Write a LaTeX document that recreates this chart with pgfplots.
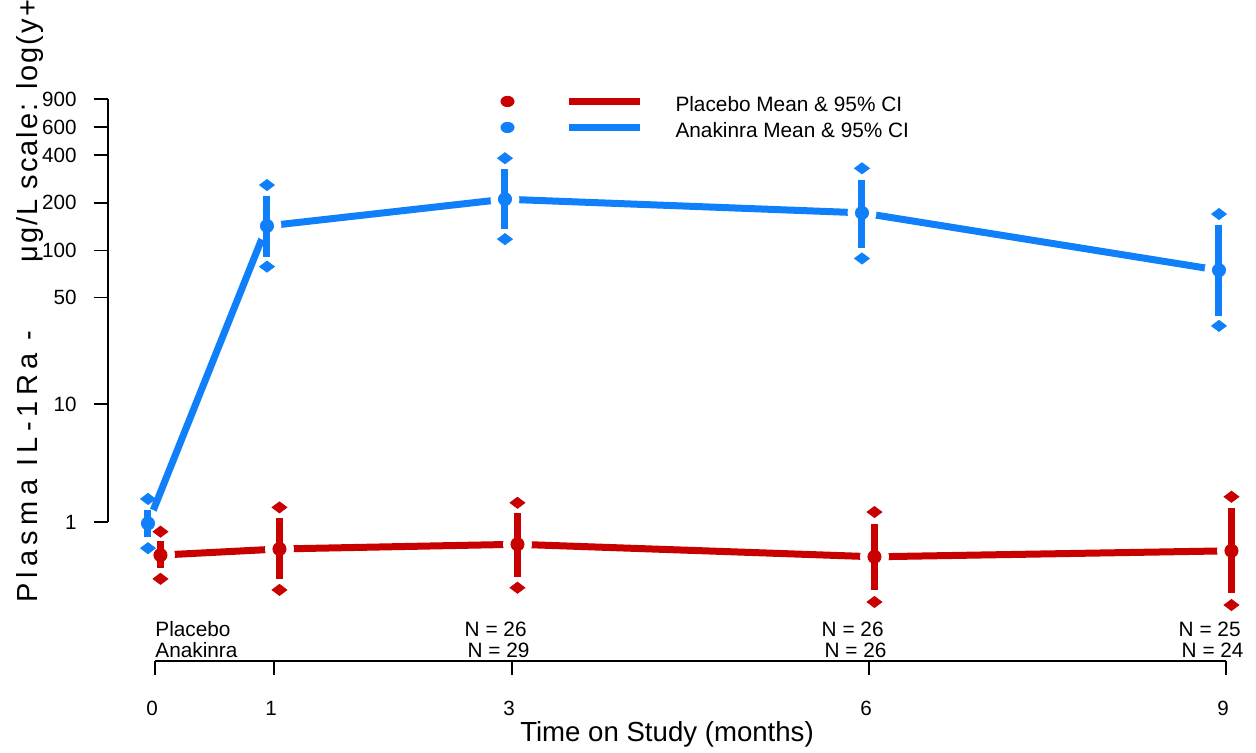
\documentclass[border=0pt]{standalone}
\usepackage{pgfplots}
\pgfplotsset{compat=1.18}
\usepackage{pgfplotstable}
\usepackage{fontspec}
\setmainfont{Liberation Sans}
\newfontfamily\widesans[LetterSpace=18]{Liberation Sans}
\newfontfamily\spacedsans[LetterSpace=7]{Liberation Sans}

\definecolor{plc}{RGB}{200,0,0}
\definecolor{ana}{RGB}{16,128,250}

% columns: month, mean, 95% CI (bar), outer limits (diamonds); values in ug/L
\pgfplotstableread{
t  mean   lo     hi    lo2     hi2
0  0.24   0.025  0.51  -0.12   0.74
1  0.355 -0.125  1.11  -0.25   1.47
3  0.45  -0.09   1.27  -0.226  1.64
6  0.21  -0.25   0.94  -0.37   1.31
9  0.32  -0.286  1.44  -0.397  1.88
}\placebo
\pgfplotstableread{
t  mean   lo     hi     lo2    hi2
0  0.96   0.61   1.38   0.37   1.79
1  143    91     221    79     259
3  211    137    326    118    382
6  173    103    279    89     330
9  75     38     145    33     170
}\anakinra

% y axis shows log10(y+1)
\pgfkeys{
  /pgfplots/table/lg/.style={/pgfplots/table/y expr={ln(\thisrow{#1}+1)/ln(10)}},
  /pgfplots/table/ci/.style={
    /pgfplots/table/y error plus expr={ln((\thisrow{hi}+1)/(\thisrow{mean}+1))/ln(10)},
    /pgfplots/table/y error minus expr={ln((\thisrow{mean}+1)/(\thisrow{lo}+1))/ln(10)}},
}
\pgfplotsset{
  legendsym/.style={legend image code/.code={
    \fill (0bp,3bp) ellipse (3.3bp and 2.6bp);
    \draw[line width=3.5bp] (30.5bp,3bp) -- (66bp,3bp);
    \path[draw=none, fill=none] (-3.5bp,-2bp) rectangle (84bp,7bp);
  }},
}

\begin{document}
\begin{tikzpicture}
\begin{axis}[
  scale only axis, width=559bp, height=330.5bp,
  xmin=-0.395, xmax=9, ymin=-0.5709, ymax=3.5759,
  clip=false, clip marker paths=true,
  axis x line*=bottom, axis y line*=left,
  axis line style={draw=none},
  tick align=outside, major tick length=7bp,
  every tick/.style={black, line width=0.65bp},
  xtick={0,1,3,6,9}, xticklabels={0,1,3,6,9},
  ytick={0.30103,1.04139,1.70757,2.00432,2.30320,2.60314,2.77887,2.95472},
  yticklabels={1,10,50,100,200,400,600,900},
  tick label style={font=\fontsize{10.3bp}{12bp}\selectfont},
  xticklabel style={anchor=base, inner sep=0pt, yshift=-20bp, xshift=-1.5bp},
  yticklabel style={anchor=east, inner sep=0pt, xshift=-8.5bp},
  xlabel={Time on Study (months)},
  xlabel style={font=\fontsize{13.8bp}{16bp}\selectfont, at={(axis description cs:0.5,0)}, anchor=base, yshift=-40bp},
  legend style={at={(axis cs:2.90,2.992)}, anchor=north west, draw=none, fill=none,
    inner sep=0pt, row sep=0pt, font=\fontsize{10.4bp}{12bp}\selectfont,
    nodes={inner sep=0pt, text height=8bp, text depth=4bp}},
  legend cell align=left,
]
\addlegendimage{legendsym, plc}
\addlegendentry{Placebo Mean \& 95\% CI}
\addlegendimage{legendsym, ana}
\addlegendentry{Anakinra Mean \& 95\% CI}

% connecting lines
\addplot[forget plot, ana, line width=3.5bp, no markers] table[x expr=\thisrow{t}-0.059, lg=mean] {\anakinra};
\addplot[forget plot, plc, line width=3.5bp, no markers] table[x expr=\thisrow{t}+0.046, lg=mean] {\placebo};
% gaps around the points
\addplot[forget plot, white, only marks, mark=*, mark size=7bp, mark options={draw=white, fill=white}] table[x expr=\thisrow{t}-0.059, lg=mean] {\anakinra};
\addplot[forget plot, white, only marks, mark=*, mark size=7bp, mark options={draw=white, fill=white}] table[x expr=\thisrow{t}+0.046, lg=mean] {\placebo};
% means and confidence bars
\addplot[forget plot, ana, only marks, mark=*, mark size=3.3bp,
  error bars/.cd, y dir=both, y explicit, error mark=none, error bar style={line width=3.5bp}]
  table[x expr=\thisrow{t}-0.059, lg=mean, ci] {\anakinra};
\addplot[forget plot, plc, only marks, mark=*, mark size=3.3bp,
  error bars/.cd, y dir=both, y explicit, error mark=none, error bar style={line width=3.5bp}]
  table[x expr=\thisrow{t}+0.046, lg=mean, ci] {\placebo};
% outer limits
\addplot[forget plot, ana, only marks, mark=diamond*, mark size=3.7bp, mark options={rotate=90}] table[x expr=\thisrow{t}-0.059, lg=lo2] {\anakinra};
\addplot[forget plot, ana, only marks, mark=diamond*, mark size=3.7bp, mark options={rotate=90}] table[x expr=\thisrow{t}-0.059, lg=hi2] {\anakinra};
\addplot[forget plot, plc, only marks, mark=diamond*, mark size=3.7bp, mark options={rotate=90}] table[x expr=\thisrow{t}+0.046, lg=lo2] {\placebo};
\addplot[forget plot, plc, only marks, mark=diamond*, mark size=3.7bp, mark options={rotate=90}] table[x expr=\thisrow{t}+0.046, lg=hi2] {\placebo};

% axis lines spanning the tick range
\draw[line width=0.65bp] (axis cs:0,-0.5709) -- (axis cs:9,-0.5709);
\draw[line width=0.65bp] (axis cs:-0.395,0.30103) -- (axis cs:-0.395,2.95472);

% sample sizes
\begin{scope}[every node/.style={inner sep=0pt, font=\fontsize{10.4bp}{12bp}\selectfont}]
\node[anchor=base west] at (axis cs:0,-0.4203) {Placebo};
\node[anchor=base west] at (axis cs:0,-0.5458) {Anakinra};
\node[anchor=base east] at (axis cs:3.126,-0.4203) {N = 26};
\node[anchor=base east] at (axis cs:3.151,-0.5458) {N = 29};
\node[anchor=base east] at (axis cs:6.126,-0.4203) {N = 26};
\node[anchor=base east] at (axis cs:6.151,-0.5458) {N = 26};
\node[anchor=base east] at (axis cs:9.126,-0.4203) {N = 25};
\node[anchor=base east] at (axis cs:9.151,-0.5458) {N = 24};
\end{scope}

% y axis title
\node[rotate=90, anchor=base west, inner sep=0pt, font=\fontsize{14.5bp}{16bp}\selectfont]
  at (axis cs:-0.9916,-0.207) {{\widesans Plasma IL-1Ra -}\hspace{34bp}{\spacedsans μg/L scale: log(y+1)}};
\end{axis}
\pgfresetboundingbox
\useasboundingbox ([shift={(-54bp,-46bp)}]current axis.south west) rectangle ([shift={(574bp,330.5bp)}]current axis.south west);
\end{tikzpicture}
\end{document}
